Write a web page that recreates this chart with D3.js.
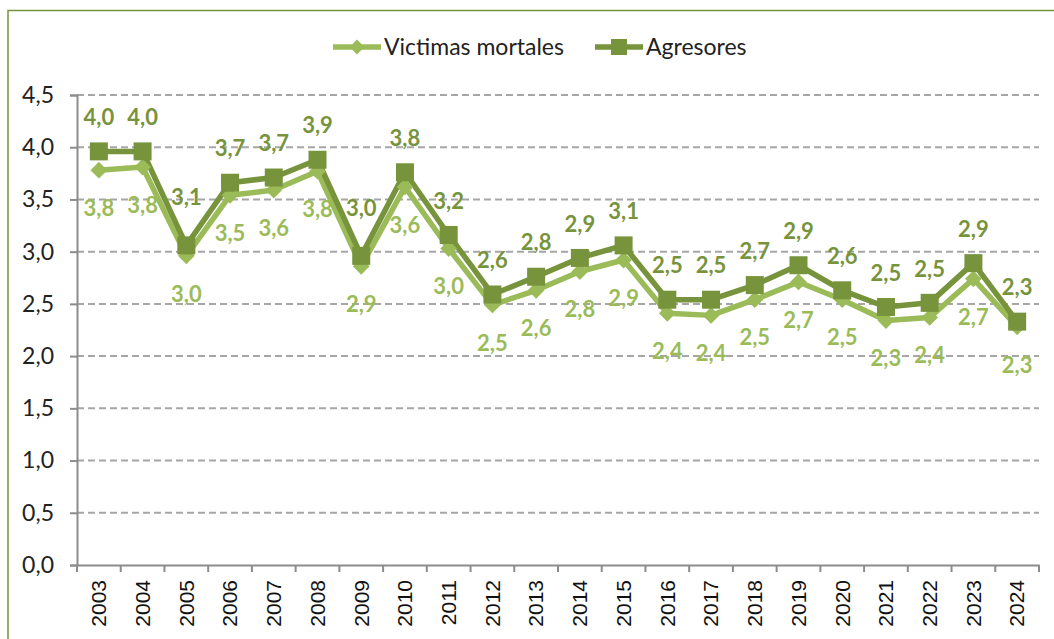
<!DOCTYPE html>
<html>
<head>
<meta charset="utf-8">
<script src="https://cdn.jsdelivr.net/npm/d3@7"></script>
<style>
  html, body { margin: 0; padding: 0; background: #fff; }
  svg { display: block; }
</style>
</head>
<body>
<svg id="chart" width="1054" height="639"></svg>
<script>
const years = ["2003","2004","2005","2006","2007","2008","2009","2010","2011","2012","2013","2014","2015","2016","2017","2018","2019","2020","2021","2022","2023","2024"];
const victimas = [3.78,3.81,2.96,3.54,3.59,3.77,2.86,3.62,3.03,2.49,2.63,2.81,2.92,2.41,2.39,2.54,2.71,2.54,2.34,2.37,2.74,2.28];
const agresores = [3.96,3.96,3.06,3.66,3.71,3.88,2.96,3.76,3.16,2.59,2.76,2.94,3.06,2.54,2.54,2.68,2.87,2.63,2.47,2.51,2.89,2.33];
const yTicks = [0,0.5,1,1.5,2,2.5,3,3.5,4,4.5];
const seriesNames = ["Victimas mortales","Agresores"];

const cLight = "#9bbb59", cDark = "#77933c";
const svg = d3.select("#chart");
const m = {left: 77, right: 1039, top: 95, bottom: 565};

// frame
svg.append("path").attr("d", `M8,${700} L8,10.5 L1060,10.5`)
  .attr("fill","none").attr("stroke", cDark).attr("stroke-width", 1.5);

const x = d3.scaleBand().domain(years).range([m.left, m.right]);
const y = d3.scaleLinear().domain([0, 4.5]).range([m.bottom, m.top]);
const fmt = v => d3.format(".1f")(v).replace(".", ",");
const cx = d => x(d) + x.bandwidth()/2;
const labFont = "Lato, 'Open Sans', sans-serif";

// grid
svg.append("g").selectAll("line").data(yTicks.filter(t => t > 0)).join("line")
  .attr("x1", m.left).attr("x2", m.right)
  .attr("y1", d => y(d)).attr("y2", d => y(d))
  .attr("stroke", "#a6a6a6").attr("stroke-width", 2).attr("stroke-dasharray", "7,4");

// y axis
const yAxis = svg.append("g").attr("transform", `translate(${m.left},0)`)
  .call(d3.axisLeft(y).tickValues(yTicks).tickFormat(fmt).tickSize(7).tickPadding(16));
yAxis.select(".domain").attr("stroke", "#8c8c8c").attr("stroke-width", 2);
yAxis.selectAll(".tick line").attr("stroke", "#8c8c8c").attr("stroke-width", 2);
yAxis.selectAll(".tick text").attr("font-family", labFont)
  .attr("font-size", 23).attr("fill", "#222");

// x axis
const xAxis = svg.append("g").attr("transform", `translate(0,${m.bottom})`)
  .call(d3.axisBottom(x).tickSize(0).tickFormat(d => d));
xAxis.select(".domain").attr("stroke", "#8c8c8c").attr("stroke-width", 2);
// boundary ticks
svg.append("g").selectAll("line").data(years.concat(["end"])).join("line")
  .attr("x1", (d,i) => m.left + i * x.step()).attr("x2", (d,i) => m.left + i * x.step())
  .attr("y1", m.bottom).attr("y2", m.bottom + 7)
  .attr("stroke", "#8c8c8c").attr("stroke-width", 2);
xAxis.selectAll(".tick text")
  .attr("font-family", "'Liberation Sans', Arial, sans-serif").attr("font-size", 21).attr("fill", "#111")
  .attr("transform", "rotate(-90)")
  .attr("text-anchor", "end").attr("x", -15).attr("y", 0).attr("dy", "0.35em");

// lines
const line = d3.line().x((d,i) => cx(years[i])).y(d => y(d));
svg.append("path").datum(victimas).attr("d", line).attr("fill","none")
  .attr("stroke", cLight).attr("stroke-width", 5.5).attr("stroke-linejoin","round");
svg.append("path").datum(agresores).attr("d", line).attr("fill","none")
  .attr("stroke", cDark).attr("stroke-width", 5.5).attr("stroke-linejoin","round");

// markers
svg.append("g").selectAll("path").data(victimas).join("path")
  .attr("d", d3.symbol().type(d3.symbolSquare).size(140))
  .attr("transform", (d,i) => `translate(${cx(years[i])},${y(d)}) rotate(45)`)
  .attr("fill", cLight);
svg.append("g").selectAll("rect").data(agresores).join("rect")
  .attr("x", (d,i) => cx(years[i]) - 9).attr("y", d => y(d) - 9)
  .attr("width", 18).attr("height", 18).attr("fill", cDark);

// labels
svg.append("g").selectAll("text").data(victimas).join("text")
  .attr("x", (d,i) => cx(years[i])).attr("y", d => y(d) + 38)
  .attr("text-anchor","middle").attr("dy","0.35em")
  .attr("font-family", labFont).attr("font-weight", 700).attr("font-size", 22)
  .attr("fill", cLight).text(fmt);
svg.append("g").selectAll("text").data(agresores).join("text")
  .attr("x", (d,i) => cx(years[i]))
  .attr("y", (d,i) => {
    const prev = agresores[i-1], next = agresores[i+1];
    const deepV = prev !== undefined && next !== undefined && prev - d > 0.5 && next - d > 0.5;
    return y(d) - (deepV ? 48 : 34);
  })
  .attr("text-anchor","middle").attr("dy","0.35em")
  .attr("font-family", labFont).attr("font-weight", 700).attr("font-size", 22)
  .attr("fill", cDark).text(fmt);

// legend
const lg = svg.append("g");
const legendItems = [
  {name: seriesNames[0], color: cLight, x0: 333, type: "diamond"},
  {name: seriesNames[1], color: cDark, x0: 595, type: "square"}
];
legendItems.forEach(it => {
  const ly = 47;
  lg.append("line").attr("x1", it.x0).attr("x2", it.x0 + 48).attr("y1", ly).attr("y2", ly)
    .attr("stroke", it.color).attr("stroke-width", 5.5);
  if (it.type === "diamond") {
    lg.append("path").attr("d", d3.symbol().type(d3.symbolSquare).size(110))
      .attr("transform", `translate(${it.x0 + 24},${ly}) rotate(45)`).attr("fill", it.color);
  } else {
    lg.append("rect").attr("x", it.x0 + 24 - 8).attr("y", ly - 8).attr("width", 16).attr("height", 16)
      .attr("fill", it.color);
  }
  lg.append("text").attr("x", it.x0 + 51).attr("y", ly).attr("dy", "0.35em")
    .attr("font-family", labFont).attr("font-size", 23).attr("fill", "#222").text(it.name);
});
</script>
</body>
</html>
